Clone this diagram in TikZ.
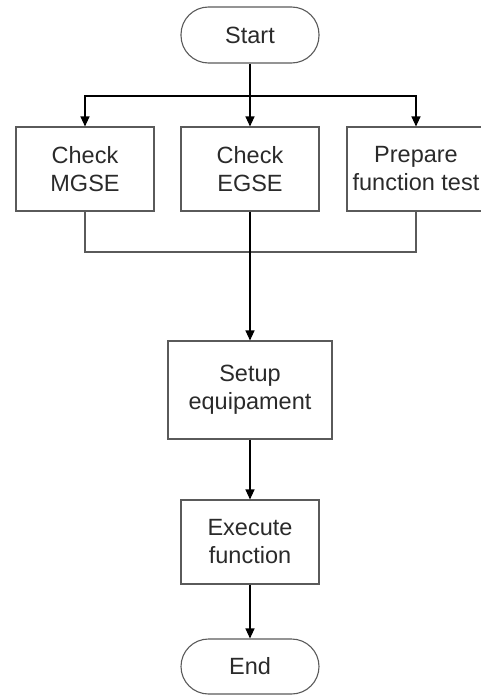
\documentclass[tikz,border=0pt]{standalone}
\usepackage{fontspec}
\setmainfont{Liberation Sans}
\usetikzlibrary{arrows.meta}
\definecolor{boxline}{HTML}{5A5A5A}
\definecolor{txt}{HTML}{2A2A2A}
\begin{document}
\begin{tikzpicture}[x=1pt,y=-1pt,
  font=\fontsize{23.5}{28}\selectfont,
  procbox/.style={draw=boxline,line width=1.1pt,rectangle,minimum width=138pt,minimum height=84pt,inner sep=0pt,align=center,text=txt},
  termbox/.style={draw=boxline,line width=1.1pt,rectangle,rounded corners=27.5pt,minimum width=138pt,minimum height=56pt,inner sep=0pt,align=center,text=txt},
  arr/.style={draw=black,line width=1.1pt,-{Triangle[width=9pt,length=10pt]}},
  joinline/.style={draw=boxline,line width=1.1pt}]
\useasboundingbox (0,0) rectangle (481,696);
\node[termbox] (start) at (250,35) {Start};
\node[procbox] (mgse) at (85,169) {Check\\MGSE};
\node[procbox] (egse) at (250,169) {Check\\EGSE};
\node[procbox] (prep) at (416,169) {Prepare\\function test};
\node[procbox,minimum width=164pt,minimum height=98pt] (setup) at (250,390) {Setup\\equipament};
\node[procbox] (exec) at (250,542) {Execute\\function};
\node[termbox,minimum height=55pt] (end) at (250,666.5) {End};
\coordinate (j1) at (250,96);
\coordinate (j2) at (250,252);
\draw[arr] (start) -- (egse);
\draw[arr] (j1) -| (mgse);
\draw[arr] (j1) -| (prep);
\draw[joinline] (mgse) |- (j2);
\draw[joinline] (prep) |- (j2);
\draw[arr] (egse) -- (setup);
\draw[arr] (setup) -- (exec);
\draw[arr] (exec) -- (end);
\end{tikzpicture}
\end{document}
